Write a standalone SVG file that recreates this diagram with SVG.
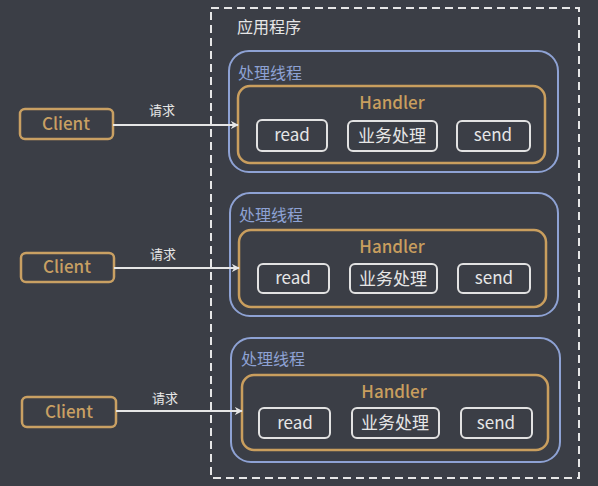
<svg xmlns="http://www.w3.org/2000/svg" width="598" height="486" viewBox="0 0 598 486">
<style>
.t{font-family:"Noto Sans CJK SC","Noto Sans","Liberation Sans",sans-serif}
.client rect{fill:none;stroke:#c9a063;stroke-width:2.5}
.client text{fill:#c9a063;font-size:17px;font-weight:500;text-anchor:middle}
.thread{fill:none;stroke:#8ea2d4;stroke-width:2}
.tl{fill:#8ea2d4;font-size:16px}
.handler{fill:none;stroke:#c99e5e;stroke-width:2.5}
.hl{fill:#c99e5e;font-size:17px;font-weight:500;text-anchor:middle}
.sub{fill:none;stroke:#e2e2e2;stroke-width:2}
.st{fill:#e6e6e6;font-size:17px;text-anchor:middle}
.conn line{stroke:#e6e6e6;stroke-width:2}
.conn text{fill:#e6e6e6;font-size:13px;text-anchor:middle}
</style>
<defs>
<marker id="ah" viewBox="0 0 10 10" refX="9" refY="5" markerWidth="8" markerHeight="8" orient="auto" markerUnits="userSpaceOnUse">
<path d="M0,0 L10,5 L0,10 L3,5 Z" fill="#e6e6e6"/>
</marker>
</defs>
<rect width="598" height="486" fill="#3b3e46"/>
<g id="app">
<rect x="211" y="8" width="368" height="470" fill="none" stroke="#e6e6e6" stroke-width="2" stroke-dasharray="8,5"/>
<text class="t" x="237" y="33" fill="#e6e6e6" font-size="16">应用程序</text>
</g>
<g id="client1" class="client t"><rect x="20" y="109" width="93" height="30" rx="5"/><text x="66" y="130">Client</text></g>
<g id="client2" class="client t"><rect x="21" y="253" width="93" height="29" rx="5"/><text x="67" y="273">Client</text></g>
<g id="client3" class="client t"><rect x="22" y="397" width="94" height="30" rx="5"/><text x="69" y="418">Client</text></g>

<g id="thread1" class="t">
<rect class="thread" x="229" y="51" width="329" height="121" rx="20"/>
<text class="tl" x="238" y="79">处理线程</text>
<g id="handler1">
<rect class="handler" x="238" y="86" width="307" height="77" rx="12"/>
<text class="hl" x="392" y="109">Handler</text>
<rect class="sub" x="257" y="120" width="70" height="31" rx="5"/><text class="st" x="292" y="141">read</text>
<rect class="sub" x="348" y="121" width="89" height="30" rx="5"/><text class="st" x="392" y="142">业务处理</text>
<rect class="sub" x="457" y="121" width="73" height="30" rx="5"/><text class="st" x="493" y="141">send</text>
</g>
</g>

<g id="thread2" class="t">
<rect class="thread" x="230" y="193" width="328" height="123" rx="20"/>
<text class="tl" x="239" y="221">处理线程</text>
<g id="handler2">
<rect class="handler" x="239" y="230" width="307" height="77" rx="12"/>
<text class="hl" x="392" y="253">Handler</text>
<rect class="sub" x="258" y="264" width="71" height="29" rx="5"/><text class="st" x="293" y="284">read</text>
<rect class="sub" x="350" y="264" width="87" height="29" rx="5"/><text class="st" x="393" y="285">业务处理</text>
<rect class="sub" x="458" y="264" width="72" height="29" rx="5"/><text class="st" x="494" y="284">send</text>
</g>
</g>

<g id="thread3" class="t">
<rect class="thread" x="231" y="338" width="329" height="124" rx="20"/>
<text class="tl" x="241" y="365">处理线程</text>
<g id="handler3">
<rect class="handler" x="242" y="375" width="306" height="75" rx="12"/>
<text class="hl" x="394" y="398">Handler</text>
<rect class="sub" x="259" y="408" width="71" height="30" rx="5"/><text class="st" x="295" y="429">read</text>
<rect class="sub" x="352" y="408" width="87" height="30" rx="5"/><text class="st" x="395" y="429">业务处理</text>
<rect class="sub" x="461" y="408" width="71" height="30" rx="5"/><text class="st" x="496" y="429">send</text>
</g>
</g>

<g id="connectors" class="conn t">
<line x1="113" y1="125" x2="238" y2="125" marker-end="url(#ah)"/>
<text x="162" y="115">请求</text>
<line x1="114" y1="268" x2="239" y2="268" marker-end="url(#ah)"/>
<text x="163" y="259">请求</text>
<line x1="116" y1="411" x2="242" y2="411" marker-end="url(#ah)"/>
<text x="165" y="403">请求</text>
</g>
</svg>
